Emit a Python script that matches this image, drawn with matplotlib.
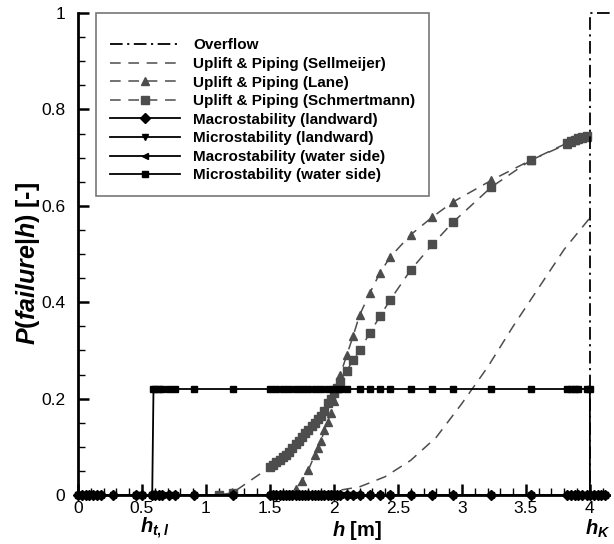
import matplotlib
matplotlib.use("Agg")
import matplotlib.pyplot as plt
import numpy as np
from matplotlib.ticker import MultipleLocator, FuncFormatter

plt.rcParams['font.family'] = ['Liberation Sans', 'DejaVu Sans']
plt.rcParams['mathtext.fontset'] = 'custom'
plt.rcParams['mathtext.it'] = 'Liberation Sans:italic:bold'
plt.rcParams['mathtext.rm'] = 'Liberation Sans:bold'
plt.rcParams['mathtext.bf'] = 'Liberation Sans:bold'

# water levels used for the stability mechanisms (all zero)
h_grid = [0, 0.03, 0.06, 0.09, 0.12, 0.15, 0.18, 0.27, 0.45, 0.5, 0.58, 0.6,
          0.63, 0.66, 0.71, 0.76, 0.91, 1.21, 1.5, 1.525, 1.55, 1.575, 1.6,
          1.625, 1.65, 1.675, 1.7, 1.725, 1.75, 1.775, 1.8, 1.825, 1.85, 1.875,
          1.9, 1.925, 1.95, 1.975, 2.0, 2.025, 2.05, 2.1, 2.15, 2.2, 2.28, 2.36,
          2.44, 2.6, 2.77, 2.93, 3.23, 3.54, 3.82, 3.85, 3.88, 3.91, 3.94, 3.98,
          4.0, 4.03, 4.06, 4.09, 4.12]
p_zero = np.zeros(len(h_grid))

overflow_h = [0, 4.0, 4.0, 4.2]
overflow_p = [0, 0, 1, 1]

sell_h = [1.2, 1.5, 1.8, 2.0, 2.2, 2.4, 2.6, 2.8, 3.0, 3.2, 3.4, 3.6, 3.8, 4.0]
sell_p = [0, 0.001, 0.004, 0.008, 0.017, 0.038, 0.072, 0.12, 0.19, 0.265,
          0.35, 0.43, 0.51, 0.575]

lane_h = [1.6, 1.65, 1.7, 1.75, 1.8, 1.85, 1.875, 1.9, 1.925, 1.95, 1.975, 2.0,
          2.025, 2.05, 2.1, 2.15, 2.2, 2.28, 2.36, 2.44, 2.6, 2.77, 2.93, 3.23,
          3.54, 3.82, 3.85, 3.88, 3.91, 3.94, 3.98]
lane_p = [0, 0.003, 0.012, 0.03, 0.052, 0.083, 0.097, 0.112, 0.135, 0.152,
          0.17, 0.195, 0.222, 0.25, 0.29, 0.33, 0.373, 0.419, 0.461, 0.494,
          0.54, 0.577, 0.608, 0.653, 0.695, 0.728, 0.732, 0.736, 0.739, 0.741,
          0.743]

schm_h = [1.1, 1.21, 1.5, 1.525, 1.55, 1.575, 1.6, 1.625, 1.65, 1.675, 1.7,
          1.725, 1.75, 1.775, 1.8, 1.825, 1.85, 1.875, 1.9, 1.925, 1.95, 1.975,
          2.0, 2.025, 2.05, 2.1, 2.15, 2.2, 2.28, 2.36, 2.44, 2.6, 2.77, 2.93,
          3.23, 3.54, 3.82, 3.85, 3.88, 3.91, 3.94, 3.98]
schm_p = [0, 0.005, 0.058, 0.063, 0.068, 0.073, 0.078, 0.083, 0.09, 0.097,
          0.105, 0.112, 0.12, 0.128, 0.135, 0.143, 0.15, 0.158, 0.165, 0.175,
          0.19, 0.2, 0.212, 0.223, 0.235, 0.258, 0.28, 0.30, 0.336, 0.371,
          0.405, 0.467, 0.52, 0.566, 0.639, 0.695, 0.73, 0.734, 0.737, 0.74,
          0.742, 0.744]

micro_ws_h = [0, 0.15, 0.45, 0.58, 0.59, 0.6, 0.63, 0.66, 0.71, 0.76, 0.91,
              1.21, 1.5, 1.55, 1.6, 1.65, 1.7, 1.75, 1.8, 1.85, 1.9, 1.95, 2.0,
              2.05, 2.1, 2.2, 2.28, 2.36, 2.44, 2.6, 2.77, 2.93, 3.23, 3.54,
              3.82, 3.85, 3.88, 3.91, 3.98, 4.0, 4.0, 4.06, 4.12]
micro_ws_p = [0, 0, 0, 0, 0.22, 0.22, 0.22, 0.22, 0.22, 0.22, 0.22, 0.22,
              0.22, 0.22, 0.22, 0.22, 0.22, 0.22, 0.22, 0.22, 0.22, 0.22, 0.22,
              0.22, 0.22, 0.22, 0.22, 0.22, 0.22, 0.22, 0.22, 0.22, 0.22, 0.22,
              0.22, 0.22, 0.22, 0.22, 0.22, 0.22, 0, 0, 0]

gray = '#4d4d4d'

fig = plt.figure(figsize=(6.14, 5.44), dpi=100)
ax = fig.add_axes([0.127, 0.090, 0.865, 0.886])

ax.plot(overflow_h, overflow_p, color='black', lw=1.3,
        dashes=(7, 2.5, 1.2, 2.5), label='Overflow', zorder=4, clip_on=False)
ax.plot(sell_h, sell_p, color=gray, lw=1.1, dashes=(7, 5),
        label='Uplift & Piping (Sellmeijer)', zorder=3)
ax.plot(lane_h, lane_p, color=gray, lw=1.1, dashes=(7, 5), marker='^', ms=6,
        label='Uplift & Piping (Lane)', zorder=3)
ax.plot(schm_h, schm_p, color=gray, lw=1.1, dashes=(7, 5), marker='s', ms=5.5,
        label='Uplift & Piping (Schmertmann)', zorder=3)
ax.plot(h_grid, p_zero, color='black', lw=1.3, marker='D', ms=5,
        label='Macrostability (landward)', zorder=5, clip_on=False)
ax.plot(h_grid, p_zero, color='black', lw=1.3, marker='v', ms=5,
        label='Microstability (landward)', zorder=5, clip_on=False)
ax.plot(h_grid, p_zero, color='black', lw=1.3, marker='<', ms=5,
        label='Macrostability (water side)', zorder=5, clip_on=False)
ax.plot(micro_ws_h, micro_ws_p, color='black', lw=1.3, marker='s', ms=5,
        label='Microstability (water side)', zorder=5, clip_on=False)

ax.set_xlim(0, 4.15)
ax.set_ylim(0, 1)

for side in ['top', 'right']:
    ax.spines[side].set_visible(False)
ax.spines['left'].set_linewidth(2)
ax.spines['bottom'].set_linewidth(2)

ax.xaxis.set_major_locator(MultipleLocator(0.5))
ax.xaxis.set_minor_locator(MultipleLocator(0.1))
ax.yaxis.set_major_locator(MultipleLocator(0.2))
ax.yaxis.set_minor_locator(MultipleLocator(0.05))
fmt = FuncFormatter(lambda v, pos: ('%g' % round(v, 2)))
ax.xaxis.set_major_formatter(fmt)
ax.yaxis.set_major_formatter(fmt)
ax.tick_params(which='major', direction='in', length=8, width=1.8,
               labelsize=12.5)
ax.tick_params(which='minor', direction='in', length=5, width=1)
ax.tick_params(axis='x', which='major', pad=4)
ax.tick_params(axis='y', which='major', pad=9)

ax.set_xlabel(r'$h$ [m]', fontsize=14.5, fontweight='bold')
ax.xaxis.set_label_coords(0.525, -0.049)
ax.set_ylabel(r'$P(failure|h)$ [-]', fontsize=18, fontweight='bold')
ax.yaxis.set_label_coords(-0.068, 0.48)

ax.text(0.6, -0.07, r'$h_{t,l}$', fontsize=14.5, ha='center', va='center',
        clip_on=False)
ax.text(4.06, -0.07, r'$h_K$', fontsize=14.5, ha='center', va='center',
        clip_on=False)

leg = ax.legend(loc='upper left', bbox_to_anchor=(0.034, 1.0),
                prop={'weight': 'bold', 'size': 11}, frameon=True,
                fancybox=False, edgecolor='#555555', handlelength=4.6,
                labelspacing=0.3, borderpad=0.9, handletextpad=0.85,
                borderaxespad=0, title=' ', title_fontsize=6)
leg.get_frame().set_linewidth(1.2)

fig.savefig('out.png', dpi=100)
